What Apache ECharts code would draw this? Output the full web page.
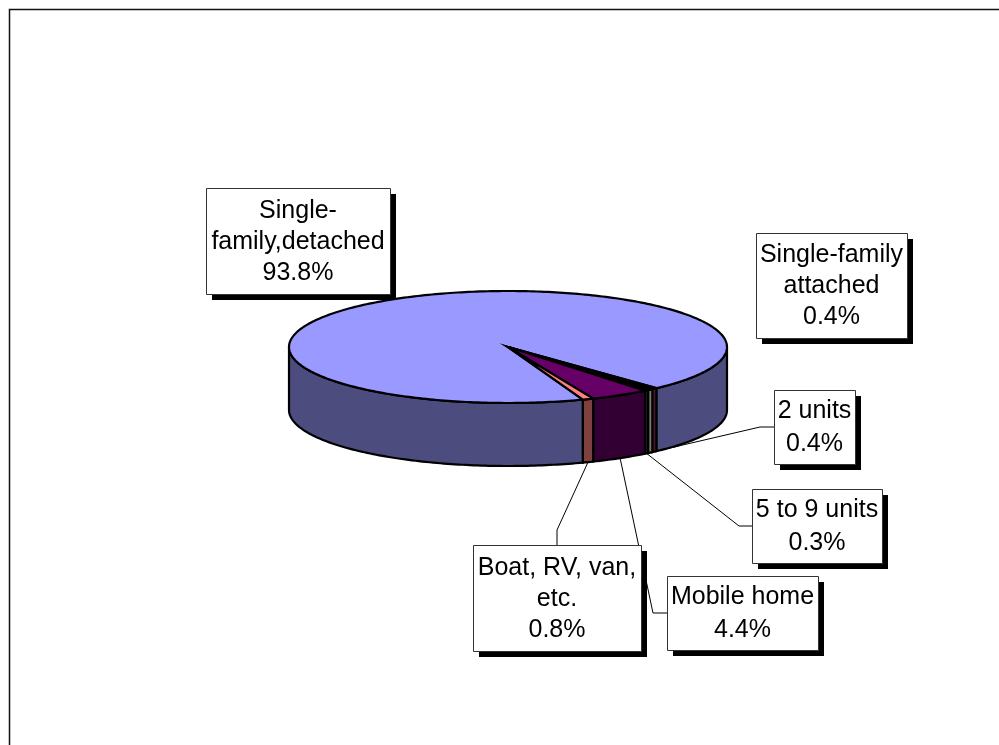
<!DOCTYPE html>
<html>
<head>
<meta http-equiv="content-type" content="text/html; charset=utf-8"/>
<title>Housing units by type</title>
<script src="https://cdn.jsdelivr.net/npm/echarts@6/dist/echarts.min.js"></script>
<style>
    html, body { margin: 0; padding: 0; background: #fff; }
    #chart { width: 999px; height: 745px; }
</style>
</head>
<body>
<div id="chart"></div>
<script>
    // data
    var categories = ['Single-family,detached', 'Single-family attached', '2 units', '5 to 9 units', 'Mobile home', 'Boat, RV, van, etc.'];
    var shares = [93.8, 0.4, 0.4, 0.3, 4.4, 0.8];
    var labelNames = ['Single-\nfamily,detached', 'Single-family\nattached', '2 units', '5 to 9 units', 'Mobile home', 'Boat, RV, van,\netc.'];

    // look
    var topColors = ['#9999FF', '#993366', '#FFFFCC', '#333366', '#660066', '#FF8080'];
    var pieCx = 508, pieCy = 347, pieRx = 219, pieRy = 56, pieDepth = 63;
    var firstSliceAngle = 70;   // degrees, clockwise from 3 o'clock
    // label boxes: x, y, w, h, line height
    var labelBoxes = [
        [206, 188, 184, 106, 31],
        [756, 233, 151, 105, 31],
        [774, 390, 81, 74, 33],
        [752, 489, 130, 74, 33],
        [667, 576, 151, 74, 33],
        [473, 545, 168, 106, 31]
    ];
    // leader line start points (box side, elbow), null = no leader
    var leaderElbows = [
        null,
        null,
        [[774, 427], [760, 427]],
        [[752, 526], [739, 526]],
        [[667, 613], [653, 613]],
        [[557, 545], [557, 530]]
    ];

    var total = shares.reduce(function (s, v) { return s + v; }, 0);
    var startDeg = [];
    var acc = firstSliceAngle;
    for (var i = 0; i < shares.length; i++) {
        startDeg.push(acc);
        acc += shares[i] / total * 360;
    }

    function darker(hex) {
        var n = parseInt(hex.slice(1), 16);
        var r = (n >> 16) >> 1, g = ((n >> 8) & 255) >> 1, b = (n & 255) >> 1;
        return 'rgb(' + r + ',' + g + ',' + b + ')';
    }

    function pt(deg, dy) {
        var t = deg * Math.PI / 180;
        return [pieCx + pieRx * Math.cos(t), pieCy + pieRy * Math.sin(t) + (dy || 0)];
    }

    function arc(a, b, dy) {
        var pts = [];
        var n = Math.max(4, Math.ceil((b - a) / 1));
        for (var k = 0; k <= n; k++) pts.push(pt(a + (b - a) * k / n, dy));
        return pts;
    }

    // visible (front) parts of the side wall
    function frontParts(a, b) {
        var parts = [];
        [[0, 180], [360, 540]].forEach(function (r) {
            var lo = Math.max(a, r[0]), hi = Math.min(b, r[1]);
            if (hi > lo) parts.push([lo, hi]);
        });
        return parts;
    }

    function renderSlice(params, api) {
        var i = params.dataIndex;
        var v = api.value(0);
        var a = startDeg[i];
        var b = a + v / total * 360;
        var kids = [];

        frontParts(a, b).forEach(function (p) {
            var pts = arc(p[0], p[1], 0).concat(arc(p[0], p[1], pieDepth).reverse());
            kids.push({
                type: 'polygon', z2: 10,
                shape: { points: pts },
                style: { fill: darker(topColors[i]), stroke: '#000', lineWidth: 2.2 }
            });
        });

        kids.push({
            type: 'polygon', z2: 20,
            shape: { points: [[pieCx, pieCy]].concat(arc(a, b, 0)) },
            style: { fill: topColors[i], stroke: '#000', lineWidth: 2.2 }
        });

        if (leaderElbows[i]) {
            var mid = (a + b) / 2;
            kids.push({
                type: 'polyline', z2: 1,
                shape: { points: leaderElbows[i].concat([pt(mid, pieDepth)]) },
                style: { stroke: '#000', lineWidth: 1, fill: null }
            });
        }

        var bx = labelBoxes[i];
        kids.push({
            type: 'rect', z2: 30,
            shape: { x: bx[0] + 6, y: bx[1] + 6, width: bx[2], height: bx[3] },
            style: { fill: '#000' }
        });
        kids.push({
            type: 'rect', z2: 31,
            shape: { x: bx[0] + 0.5, y: bx[1] + 0.5, width: bx[2], height: bx[3] },
            style: { fill: '#fff', stroke: '#333', lineWidth: 1 }
        });
        kids.push({
            type: 'text', z2: 32,
            x: bx[0] + bx[2] / 2, y: bx[1] + bx[3] / 2 + 1,
            style: {
                text: labelNames[i] + '\n' + v.toFixed(1) + '%',
                fill: '#000',
                fontSize: 25,
                fontFamily: '"Liberation Sans", Arial, sans-serif',
                align: 'center',
                verticalAlign: 'middle',
                lineHeight: bx[4]
            }
        });

        return { type: 'group', children: kids };
    }

    var chart = echarts.init(document.getElementById('chart'));
    chart.setOption({
        backgroundColor: '#fff',
        animation: false,
        graphic: [{
            type: 'polyline',
            shape: { points: [[9.5, 745], [9.5, 9.5], [999, 9.5]] },
            style: { stroke: '#111', lineWidth: 1.5, fill: null }
        }],
        series: [{
            type: 'custom',
            coordinateSystem: 'none',
            renderItem: renderSlice,
            data: shares.map(function (v, i) { return { name: categories[i], value: [v] }; })
        }]
    });
</script>
</body>
</html>
